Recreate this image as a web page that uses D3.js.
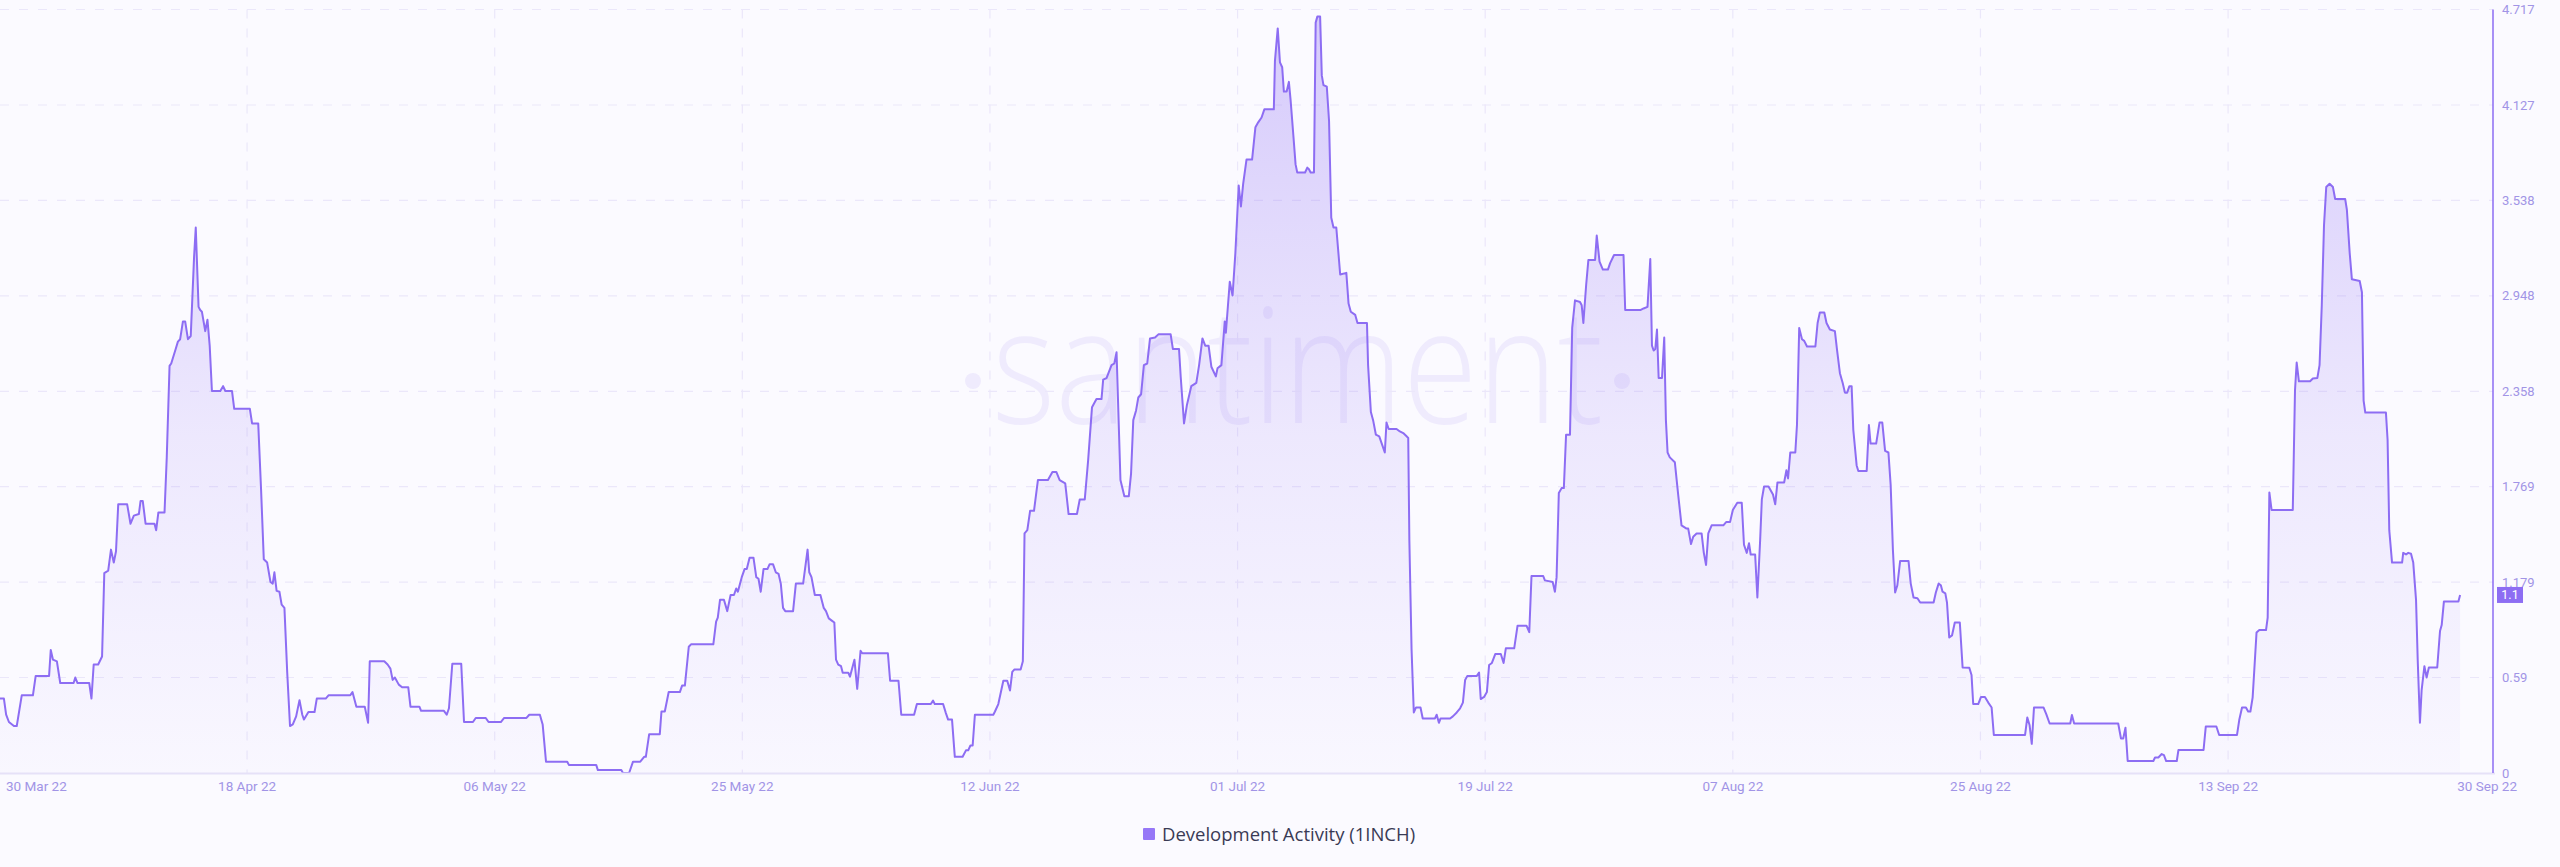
<!DOCTYPE html>
<html>
<head>
<meta charset="utf-8">
<script src="https://cdn.jsdelivr.net/npm/d3@7"></script>
<style>
  html, body { margin: 0; padding: 0; background: #fbfaff; }
  svg { display: block; }
</style>
</head>
<body>
<div id="chart"></div>
<script>
// ---------------- DATA ----------------
const startDate = "2022-03-30T13:00:00Z";
const domainEnd = "2022-10-02T19:00:00Z";
const seriesName = "Development Activity (1INCH)";
const lastValueLabel = "1.1";

// hours after startDate
const hourOffsets = [
  0,7,11,16,25,30,39,59,64,88,
  91,95,102,108,132,135,139,160,164,168,
  176,183,187,194,199,204,208,212,228,234,
  240,249,252,256,261,277,280,284,295,299,
  304,307,315,319,323,328,332,337,342,348,
  351,356,359,362,368,372,376,380,395,400,
  404,416,420,448,452,463,468,473,479,485,
  489,492,496,501,505,510,515,520,525,531,
  537,542,545,553,564,568,584,589,628,632,
  639,654,660,663,689,695,700,704,708,715,
  721,732,736,752,755,796,801,805,811,827,
  832,848,853,871,876,898,904,944,949,968,
  973,979,1017,1020,1069,1072,1114,1117,1128,1135,
  1148,1155,1158,1164,1183,1186,1192,1199,1219,1223,
  1228,1235,1239,1279,1284,1287,1291,1298,1304,1310,
  1316,1320,1323,1330,1335,1339,1344,1351,1356,1360,
  1364,1369,1376,1380,1386,1391,1396,1400,1404,1408,
  1422,1427,1440,1448,1451,1455,1461,1471,1477,1481,
  1486,1492,1496,1499,1503,1508,1511,1521,1524,1532,
  1537,1543,1546,1592,1596,1611,1616,1639,1644,1669,
  1673,1676,1691,1696,1700,1707,1712,1726,1732,1736,
  1740,1744,1748,1781,1784,1790,1799,1806,1811,1815,
  1819,1830,1834,1837,1842,1847,1854,1861,1879,1887,
  1894,1900,1910,1916,1931,1936,1945,1951,1958,1966,
  1975,1978,1984,1993,1998,2002,2009,2016,2024,2028,
  2032,2037,2041,2046,2051,2057,2062,2071,2077,2099,
  2103,2114,2117,2123,2128,2136,2145,2150,2156,2161,
  2167,2172,2180,2183,2190,2196,2198,2205,2210,2215,
  2221,2225,2229,2235,2245,2251,2256,2262,2267,2284,
  2286,2291,2295,2299,2302,2307,2311,2314,2319,2323,
  2326,2340,2344,2347,2350,2356,2359,2362,2367,2370,
  2373,2379,2383,2387,2391,2396,2403,2414,2418,2422,
  2430,2434,2451,2453,2458,2462,2467,2473,2478,2483,
  2486,2490,2504,2510,2516,2522,2525,2527,2531,2535,
  2539,2547,2551,2573,2576,2580,2583,2600,2605,2612,
  2618,2623,2627,2631,2648,2652,2655,2661,2666,2670,
  2675,2681,2691,2696,2700,2715,2721,2737,2742,2746,
  2767,2770,2784,2788,2791,2795,2800,2804,2808,2815,
  2819,2824,2833,2836,2839,2844,2848,2860,2863,2868,
  2874,2883,2887,2894,2911,2914,2941,2947,2954,2959,
  2962,2965,2968,2971,2974,2980,2984,2987,2990,2994,
  3003,3009,3015,3024,3027,3032,3036,3042,3051,3055,
  3059,3063,3069,3090,3095,3102,3107,3115,3123,3127,
  3132,3136,3139,3147,3151,3156,3159,3163,3171,3179,
  3183,3187,3199,3203,3206,3210,3219,3222,3226,3231,
  3235,3240,3255,3259,3263,3271,3275,3281,3290,3294,
  3299,3304,3308,3312,3316,3320,3323,3329,3332,3347,
  3351,3354,3364,3370,3375,3380,3386,3390,3394,3398,
  3402,3407,3422,3426,3431,3438,3443,3467,3471,3476,
  3480,3483,3488,3491,3495,3500,3505,3514,3519,3531,
  3535,3538,3547,3552,3559,3565,3571,3575,3631,3635,
  3639,3643,3647,3664,3669,3675,3712,3715,3719,3798,
  3803,3807,3811,3815,3861,3864,3870,3876,3880,3884,
  3903,3906,3951,3955,3974,3979,4011,4015,4020,4027,
  4031,4035,4039,4042,4046,4051,4063,4066,4069,4073,
  4111,4115,4118,4122,4142,4147,4155,4159,4163,4167,
  4171,4177,4183,4187,4205,4208,4213,4217,4231,4235,
  4238,4241,4278,4281,4284,4289,4307,4309,4314,4318,
  4323,4327,4332,4335,4339,4342,4347,4351,4355,4370,
  4375,4378,4382,4408,4411
];

const devActivity = [
  0.46,0.46,0.36,0.315,0.29,0.29,0.48,0.48,0.60,0.60,
  0.76,0.70,0.69,0.556,0.556,0.59,0.556,0.556,0.46,0.67,
  0.67,0.72,1.235,1.25,1.38,1.30,1.37,1.66,1.66,1.54,
  1.59,1.60,1.68,1.68,1.54,1.54,1.50,1.61,1.61,1.95,
  2.515,2.53,2.62,2.665,2.68,2.79,2.79,2.68,2.70,3.19,
  3.37,2.88,2.86,2.85,2.73,2.80,2.64,2.36,2.36,2.39,
  2.36,2.36,2.25,2.25,2.16,2.16,1.76,1.32,1.30,1.18,
  1.17,1.24,1.125,1.12,1.04,1.02,0.62,0.29,0.30,0.35,
  0.45,0.36,0.33,0.377,0.377,0.46,0.46,0.48,0.48,0.50,
  0.41,0.41,0.31,0.69,0.69,0.67,0.645,0.575,0.59,0.546,
  0.53,0.53,0.41,0.41,0.384,0.384,0.36,0.40,0.675,0.675,
  0.315,0.315,0.34,0.34,0.315,0.315,0.34,0.34,0.36,0.36,
  0.30,0.07,0.07,0.05,0.05,0.018,0.018,0,0,0.07,
  0.07,0.10,0.10,0.24,0.24,0.38,0.38,0.50,0.50,0.54,
  0.54,0.78,0.795,0.795,0.935,0.96,1.07,1.07,1.00,1.10,
  1.10,1.14,1.12,1.21,1.26,1.26,1.33,1.33,1.21,1.20,
  1.12,1.26,1.26,1.29,1.29,1.24,1.23,1.17,1.02,1.00,
  1.00,1.17,1.17,1.38,1.24,1.21,1.10,1.10,1.02,1.00,
  0.955,0.94,0.93,0.70,0.67,0.66,0.62,0.62,0.595,0.70,
  0.52,0.755,0.74,0.74,0.57,0.57,0.36,0.36,0.426,0.426,
  0.447,0.426,0.426,0.37,0.33,0.33,0.10,0.10,0.14,0.14,
  0.17,0.17,0.36,0.36,0.38,0.426,0.57,0.57,0.51,0.625,
  0.64,0.64,0.69,1.48,1.50,1.62,1.62,1.81,1.81,1.86,
  1.86,1.81,1.79,1.60,1.60,1.69,1.69,1.93,2.26,2.31,
  2.31,2.43,2.44,2.52,2.53,2.60,1.81,1.71,1.71,1.85,
  2.18,2.24,2.32,2.34,2.52,2.53,2.685,2.69,2.71,2.71,
  2.62,2.62,2.45,2.16,2.27,2.39,2.41,2.52,2.685,2.64,
  2.64,2.51,2.45,2.50,2.52,2.79,2.72,3.035,2.95,3.21,
  3.63,3.50,3.64,3.79,3.79,3.99,4.02,4.05,4.10,4.10,
  4.40,4.60,4.39,4.36,4.21,4.21,4.27,4.16,3.94,3.76,
  3.71,3.71,3.74,3.73,3.71,3.71,4.636,4.673,4.673,4.31,
  4.25,4.24,4.03,3.43,3.37,3.37,3.08,3.09,2.90,2.85,
  2.83,2.78,2.78,2.52,2.23,2.18,2.09,2.08,2.03,1.98,
  2.165,2.125,2.125,2.11,2.10,2.08,2.07,1.44,0.76,0.374,
  0.405,0.405,0.337,0.337,0.36,0.31,0.337,0.337,0.35,0.374,
  0.40,0.435,0.575,0.60,0.60,0.62,0.457,0.47,0.50,0.667,
  0.68,0.735,0.735,0.68,0.77,0.77,0.91,0.91,0.87,1.217,
  1.217,1.19,1.18,1.12,1.21,1.73,1.76,1.76,2.09,2.09,
  2.75,2.92,2.91,2.89,2.78,3.015,3.17,3.17,3.32,3.16,
  3.11,3.11,3.15,3.20,3.20,2.86,2.86,2.87,2.88,3.175,
  2.64,2.61,2.62,2.74,2.44,2.44,2.69,2.18,1.98,1.95,
  1.92,1.72,1.53,1.51,1.51,1.415,1.46,1.48,1.48,1.36,
  1.285,1.48,1.53,1.53,1.55,1.55,1.625,1.67,1.67,1.41,
  1.36,1.42,1.35,1.35,1.084,1.44,1.69,1.77,1.77,1.72,
  1.66,1.795,1.795,1.87,1.82,1.98,1.98,2.15,2.75,2.68,
  2.67,2.635,2.635,2.78,2.845,2.845,2.78,2.74,2.73,2.61,
  2.47,2.41,2.35,2.35,2.39,2.39,2.12,1.90,1.866,1.866,
  2.15,2.035,2.035,2.165,2.165,1.99,1.98,1.78,1.38,1.115,
  1.16,1.31,1.31,1.17,1.084,1.08,1.053,1.053,1.115,1.17,
  1.16,1.12,1.11,1.053,0.837,0.85,0.93,0.93,0.652,0.65,
  0.605,0.426,0.426,0.47,0.47,0.435,0.405,0.235,0.235,0.343,
  0.297,0.18,0.405,0.405,0.364,0.306,0.306,0.358,0.306,0.306,
  0.213,0.213,0.28,0.074,0.074,0.096,0.096,0.117,0.11,0.074,
  0.074,0.142,0.142,0.287,0.287,0.235,0.235,0.327,0.405,0.405,
  0.38,0.38,0.466,0.636,0.868,0.883,0.883,0.96,1.733,1.625,
  1.625,2.366,2.536,2.42,2.42,2.437,2.44,2.52,2.89,3.385,
  3.62,3.64,3.62,3.546,3.546,3.48,3.215,3.05,3.04,2.97,
  2.30,2.227,2.227,2.057,1.50,1.30,1.30,1.36,1.35,1.36,
  1.355,1.30,1.07,0.70,0.31,0.51,0.66,0.59,0.652,0.652,
  0.877,0.914,1.06,1.06,1.1
];

const xTickDates = [
  "2022-04-18T00:00:00Z", "2022-05-06T12:00:00Z", "2022-05-25T00:00:00Z",
  "2022-06-12T12:00:00Z", "2022-07-01T00:00:00Z", "2022-07-19T12:00:00Z",
  "2022-08-07T00:00:00Z", "2022-08-25T12:00:00Z", "2022-09-13T00:00:00Z"
];
const yTicks = [0, 0.59, 1.179, 1.769, 2.358, 2.948, 3.538, 4.127, 4.717];
const yMax = 4.717;

// ---------------- LAYOUT ----------------
const W = 2560, H = 867;
const plot = { left: 0, right: 2493, top: 9.5, bottom: 773 };
const C = {
  bg: "#fbfaff",
  line: "#8d6df3",
  grid: "#ebe7fa",
  axisBottom: "#e6e1f8",
  tick: "#a194e6",
  legendText: "#3a3a55",
  watermark: "rgba(140,108,240,0.1)"
};

if (hourOffsets.length !== devActivity.length) {
  console.error("length mismatch", hourOffsets.length, devActivity.length);
}

const t0 = new Date(startDate);
const data = hourOffsets.map((h, i) => ({
  date: new Date(t0.getTime() + h * 3600000),
  value: devActivity[i]
}));

const x = d3.scaleUtc()
  .domain([t0, new Date(domainEnd)])
  .range([plot.left, plot.right]);
const y = d3.scaleLinear()
  .domain([0, yMax])
  .range([plot.bottom, plot.top]);

const svg = d3.select("#chart").append("svg")
  .attr("width", W).attr("height", H)
  .attr("viewBox", `0 0 ${W} ${H}`);

svg.append("rect").attr("width", W).attr("height", H).attr("fill", C.bg);

const defs = svg.append("defs");
const grad = defs.append("linearGradient")
  .attr("id", "areaGrad")
  .attr("gradientUnits", "userSpaceOnUse")
  .attr("x1", 0).attr("x2", 0)
  .attr("y1", plot.top).attr("y2", plot.bottom);
grad.append("stop").attr("offset", "0%").attr("stop-color", C.line).attr("stop-opacity", 0.34);
grad.append("stop").attr("offset", "55%").attr("stop-color", C.line).attr("stop-opacity", 0.13);
grad.append("stop").attr("offset", "100%").attr("stop-color", C.line).attr("stop-opacity", 0.02);

defs.append("clipPath").attr("id", "plotClip")
  .append("rect")
  .attr("x", plot.left).attr("y", 0)
  .attr("width", plot.right - plot.left).attr("height", plot.bottom + 2);

// watermark
const wm = svg.append("g").attr("class", "watermark");
wm.append("text")
  .attr("x", 992).attr("y", 423)
  .attr("textLength", 611)
  .attr("lengthAdjust", "spacingAndGlyphs")
  .attr("font-family", "'Open Sans', sans-serif")
  .attr("font-weight", 300)
  .attr("font-size", 160)
  .attr("fill", C.watermark)
  .text("santiment");
wm.append("circle").attr("cx", 973).attr("cy", 381).attr("r", 8).attr("fill", C.watermark);
wm.append("circle").attr("cx", 1622).attr("cy", 381).attr("r", 8).attr("fill", C.watermark);

// grid
const grid = svg.append("g").attr("class", "grid");
grid.selectAll("line.h").data(yTicks.filter(v => v > 0)).join("line")
  .attr("class", "h")
  .attr("x1", plot.left).attr("x2", plot.right)
  .attr("y1", d => y(d)).attr("y2", d => y(d))
  .attr("stroke", C.grid).attr("stroke-width", 1.2)
  .attr("stroke-dasharray", "9,10");
grid.selectAll("line.v").data(xTickDates).join("line")
  .attr("class", "v")
  .attr("x1", d => x(new Date(d))).attr("x2", d => x(new Date(d)))
  .attr("y1", plot.top).attr("y2", plot.bottom)
  .attr("stroke", C.grid).attr("stroke-width", 1.2)
  .attr("stroke-dasharray", "9,10");

// area + line
const area = d3.area()
  .x(d => x(d.date)).y0(y(0)).y1(d => y(d.value));
const line = d3.line()
  .x(d => x(d.date)).y(d => y(d.value));

const g = svg.append("g").attr("clip-path", "url(#plotClip)");
g.append("path").datum(data)
  .attr("d", area)
  .attr("fill", "url(#areaGrad)");
g.append("path").datum(data)
  .attr("d", line)
  .attr("fill", "none")
  .attr("stroke", C.line)
  .attr("stroke-width", 2)
  .attr("stroke-linejoin", "round");

// bottom axis line
svg.append("line")
  .attr("x1", 0).attr("x2", plot.right + 2)
  .attr("y1", plot.bottom + 0.5).attr("y2", plot.bottom + 0.5)
  .attr("stroke", C.axisBottom).attr("stroke-width", 2);

// right axis line
svg.append("line")
  .attr("x1", plot.right).attr("x2", plot.right)
  .attr("y1", plot.top).attr("y2", plot.bottom)
  .attr("stroke", C.line).attr("stroke-width", 1.5);

// x labels
const fmt = d3.utcFormat("%d %b %y");
const xLab = svg.append("g")
  .attr("font-family", "Roboto, 'Liberation Sans', sans-serif")
  .attr("font-size", 13.5)
  .attr("fill", C.tick);
xLab.selectAll("text.tick").data(xTickDates).join("text")
  .attr("class", "tick")
  .attr("x", d => x(new Date(d)))
  .attr("y", 791)
  .attr("text-anchor", "middle")
  .text(d => fmt(new Date(d)));
xLab.append("text")
  .attr("x", 6).attr("y", 791).attr("text-anchor", "start")
  .text(fmt(data[0].date));
xLab.append("text")
  .attr("x", plot.right + 24).attr("y", 791).attr("text-anchor", "end")
  .text(fmt(data[data.length - 1].date));

// y labels
const yLab = svg.append("g")
  .attr("font-family", "Roboto, 'Liberation Sans', sans-serif")
  .attr("font-size", 13)
  .attr("fill", C.tick);
yLab.selectAll("text").data(yTicks).join("text")
  .attr("x", plot.right + 9)
  .attr("y", d => y(d))
  .attr("dy", "0.35em")
  .text(d => String(d));

// last value badge
const lastVal = +lastValueLabel;
svg.append("rect")
  .attr("x", plot.right + 4).attr("y", y(lastVal) - 8)
  .attr("width", 26).attr("height", 16)
  .attr("fill", C.line);
svg.append("text")
  .attr("x", plot.right + 17).attr("y", y(lastVal))
  .attr("dy", "0.36em")
  .attr("text-anchor", "middle")
  .attr("font-family", "Roboto, 'Liberation Sans', sans-serif")
  .attr("font-size", 12.5)
  .attr("fill", "#ffffff")
  .text(lastValueLabel);

// legend
svg.append("rect")
  .attr("x", 1143).attr("y", 828).attr("width", 12).attr("height", 12)
  .attr("rx", 1)
  .attr("fill", "#9677f7");
svg.append("text")
  .attr("x", 1162).attr("y", 841)
  .attr("font-family", "'Open Sans', sans-serif")
  .attr("font-size", 18.5)
  .attr("fill", C.legendText)
  .text(seriesName);
</script>
</body>
</html>
